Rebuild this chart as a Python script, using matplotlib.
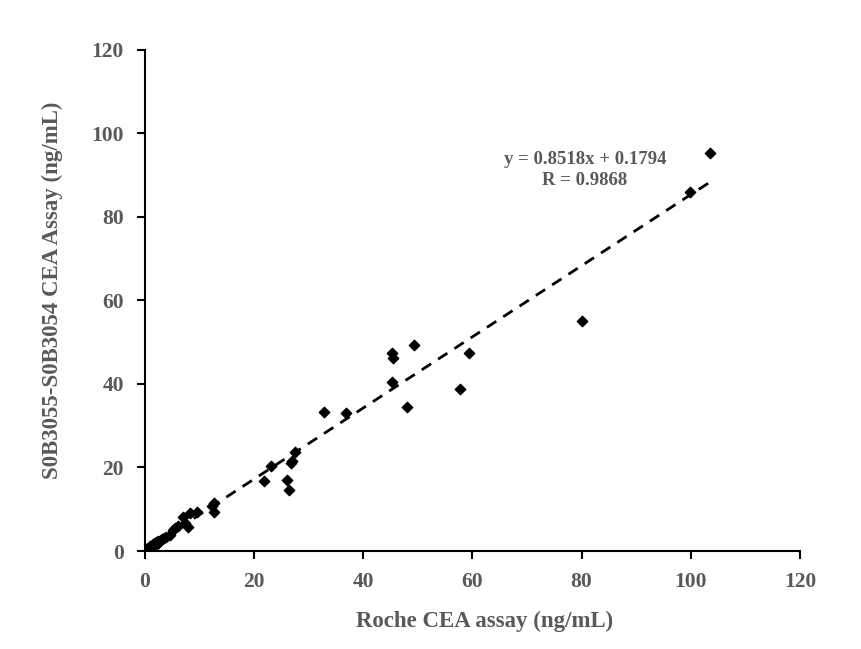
import numpy as np
import matplotlib.pyplot as plt

# Roche CEA (x) vs S0B3055-S0B3054 CEA (y), ng/mL
roche = [0.3, 0.5, 0.7, 0.9, 1.0, 1.2, 1.4, 1.5, 1.7, 1.9, 2.0, 2.2, 2.4, 2.5,
         2.7, 3.0, 3.2, 3.5, 3.8, 4.6, 5.1, 5.6, 6.0, 7.0, 7.3, 7.9, 8.2, 9.5,
         12.3, 12.6, 12.6, 21.8, 23.2, 26.0, 26.4, 26.7, 26.9, 27.6, 32.8, 36.8,
         45.2, 45.4, 45.2, 48.0, 49.3, 57.7, 59.3, 80.0, 99.8, 103.5]
s0b = [0.4, 0.6, 0.8, 0.7, 1.1, 1.0, 1.3, 1.6, 1.4, 1.8, 2.1, 1.7, 2.0, 2.5,
       2.3, 2.7, 2.9, 3.1, 3.4, 3.8, 5.0, 5.4, 6.0, 8.1, 6.7, 5.7, 9.1, 9.3,
       10.8, 11.5, 9.3, 16.8, 20.4, 17.0, 14.6, 21.1, 21.6, 23.7, 33.3, 33.0,
       47.4, 46.2, 40.5, 34.5, 49.3, 38.8, 47.4, 55.0, 86.0, 95.3]

slope, intercept = 0.8518, 0.1794
grey = '#595959'

plt.rcParams['font.family'] = ['Liberation Serif', 'DejaVu Serif']
plt.rcParams['font.weight'] = 'bold'

fig = plt.figure(figsize=(8.62, 6.49), dpi=100)
ax = fig.add_axes([0.168, 0.151, 0.76, 0.772])

ax.scatter(roche, s0b, marker='D', s=28, color='black', zorder=3)
xs = np.array([0, max(roche)])
ax.plot(xs, slope * xs + intercept, color='black', linestyle=(0, (4, 3)), linewidth=2)

ax.set_xlim(0, 120)
ax.set_ylim(0, 120)
ax.set_xticks(range(0, 121, 20))
ax.set_yticks(range(0, 121, 20))
for s in ['top', 'right']:
    ax.spines[s].set_visible(False)
for s in ['left', 'bottom']:
    ax.spines[s].set_linewidth(1.5)
ax.tick_params(direction='out', length=6, width=1.5, labelsize=15.5,
               labelcolor=grey, pad=9)
for lab in ax.get_xticklabels() + ax.get_yticklabels():
    lab.set_fontweight('bold')

ax.set_xlabel('Roche CEA assay (ng/mL)', fontsize=16.5, color=grey,
              fontweight='bold')
ax.set_ylabel('S0B3055-S0B3054 CEA Assay (ng/mL)', fontsize=16.5, color=grey,
              fontweight='bold')
ax.xaxis.set_label_coords(0.518, -0.12)
ax.yaxis.set_label_coords(-0.125, 0.52)

ax.text(80.6, 91.2, 'y = 0.8518x + 0.1794\nR = 0.9868', ha='center', va='center',
        fontsize=13.5, color=grey, fontweight='bold', linespacing=1.35)

fig.savefig('out.png', dpi=100)
